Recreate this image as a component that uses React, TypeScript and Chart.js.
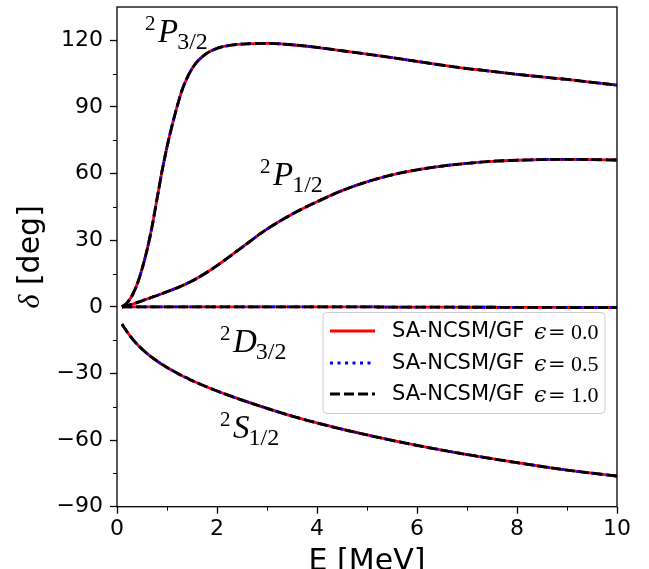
import { useEffect, useRef } from "react";
import { Chart, registerables } from "chart.js";

Chart.register(...registerables);

// ---- data ----
const energies = [
  0.1, 0.2, 0.3, 0.4, 0.5, 0.6, 0.7, 0.8, 0.9, 1.0,
  1.1, 1.2, 1.3, 1.4, 1.5, 1.6, 1.8, 2.0, 2.25, 2.5,
  3, 3.5, 4, 4.5, 5, 5.5, 6, 6.5, 7, 7.5,
  8, 8.5, 9, 9.5, 10,
];
const p32 = [
  0, 1.8, 5, 10, 17, 25.5, 36, 48.5, 61, 72,
  81.5, 90, 97.5, 103, 107.2, 110.3, 114.2, 116.4, 117.7, 118.3,
  118.6, 118, 116.8, 115.3, 113.8, 112.2, 110.5, 108.8, 107.3, 106,
  104.7, 103.5, 102.4, 101.1, 99.8,
];
const p12 = [
  0, 0.5, 1.15, 1.9, 2.7, 3.5, 4.3, 5.1, 5.95, 6.8,
  7.65, 8.55, 9.5, 10.55, 11.65, 12.85, 15.55, 18.55, 22.6, 26.8,
  35.0, 41.7, 47.3, 52.3, 56.3, 59.4, 61.7, 63.4, 64.6, 65.5,
  66.0, 66.3, 66.4, 66.3, 66.1,
];
const d32 = [
  0, 0, 0, 0, 0, 0, 0, 0, 0, 0,
  0, 0, 0, 0, 0, 0, 0, 0, 0, 0,
  0, 0, 0, 0, -0.05, -0.1, -0.1, -0.15, -0.2, -0.2,
  -0.25, -0.25, -0.3, -0.3, -0.3,
];
const s12 = [
  -7.8, -11.2, -14.2, -16.8, -19.0, -21.0, -22.8, -24.4, -25.9, -27.3,
  -28.6, -29.8, -31.0, -32.1, -33.2, -34.2, -36.1, -37.9, -40.0, -42.0,
  -45.7, -49.2, -52.3, -55.1, -57.7, -60.1, -62.4, -64.5, -66.5, -68.4,
  -70.2, -71.9, -73.5, -74.9, -76.2,
];

const curves = [p32, p12, d32, s12];
const epsilonLabels = ["0.0", "0.5", "1.0"];

const xTicks = [0, 2, 4, 6, 8, 10];
const xMinorTicks = [1, 3, 5, 7, 9];
const yTicks = [-90, -60, -30, 0, 30, 60, 90, 120];
const yMinorTicks = [-75, -45, -15, 15, 45, 75, 105];

// wave labels: [letter, subscript, E anchor, delta anchor (baseline)]
const waveLabels: [string, string, number, number][] = [
  ["P", "3/2", 0.56, 119.1],
  ["P", "1/2", 2.86, 54.7],
  ["D", "3/2", 2.06, -20.4],
  ["S", "1/2", 2.06, -59.0],
];

const styles = [
  { color: "#ff0000", dash: [] as number[], order: 3 },
  { color: "#0000ff", dash: [3, 4.5], order: 2 },
  { color: "#000000", dash: [10, 4], order: 1 },
];

const SERIF = '"Liberation Serif", "DejaVu Serif", serif';
const SANS = '"DejaVu Sans", sans-serif';

function drawTerm(ctx: CanvasRenderingContext2D, x: number, base: number, letter: string, sub: string) {
  ctx.fillStyle = "#000";
  ctx.textAlign = "left";
  ctx.textBaseline = "alphabetic";
  ctx.font = `21px ${SERIF}`;
  ctx.fillText("2", x, base - 12);
  ctx.font = `italic 33px ${SERIF}`;
  ctx.fillText(letter, x + 13, base);
  const w = ctx.measureText(letter).width;
  ctx.font = `24px ${SERIF}`;
  ctx.fillText(sub, x + 13 + w - 1, base + 7);
}

const decorPlugin = {
  id: "decor",
  afterDatasetsDraw(chart: any) {
    const ctx: CanvasRenderingContext2D = chart.ctx;
    const { left, right, top, bottom } = chart.chartArea;
    const xs = chart.scales.x;
    const ys = chart.scales.y;
    ctx.save();
    // frame
    ctx.strokeStyle = "#000";
    ctx.lineWidth = 1.3;
    ctx.strokeRect(left, top, right - left, bottom - top);
    // minor ticks
    ctx.lineWidth = 1;
    ctx.beginPath();
    for (const v of xMinorTicks) {
      const px = Math.round(xs.getPixelForValue(v)) + 0.5;
      ctx.moveTo(px, bottom);
      ctx.lineTo(px, bottom + 4);
    }
    for (const v of yMinorTicks) {
      const py = Math.round(ys.getPixelForValue(v)) + 0.5;
      ctx.moveTo(left, py);
      ctx.lineTo(left - 4, py);
    }
    ctx.stroke();
    // wave labels
    for (const [letter, sub, e, d] of waveLabels) {
      drawTerm(ctx, xs.getPixelForValue(e), ys.getPixelForValue(d), letter, sub);
    }
    // legend
    const lx = 323, ly = 312.5, lw = 282, lh = 101;
    ctx.beginPath();
    ctx.roundRect(lx, ly, lw, lh, 4);
    ctx.fillStyle = "rgba(255,255,255,0.85)";
    ctx.fill();
    ctx.strokeStyle = "#cccccc";
    ctx.lineWidth = 1;
    ctx.stroke();
    const rows = [331, 363, 394];
    styles.forEach((s, i) => {
      const y = rows[i];
      ctx.beginPath();
      ctx.setLineDash(s.dash);
      ctx.strokeStyle = s.color;
      ctx.lineWidth = 2.8;
      ctx.moveTo(330, y);
      ctx.lineTo(375, y);
      ctx.stroke();
      ctx.setLineDash([]);
      ctx.fillStyle = "#000";
      ctx.textBaseline = "middle";
      ctx.textAlign = "left";
      ctx.font = `21px ${SANS}`;
      ctx.fillText("SA-NCSM/GF", 392, y + 1);
      ctx.textBaseline = "alphabetic";
      ctx.font = `italic 22px "DejaVu Serif", serif`;
      ctx.fillText("\u03f5", 534, y + 8);
      ctx.font = `21px "DejaVu Serif", serif`;
      ctx.fillText("=", 548, y + 8);
      ctx.font = `22px ${SERIF}`;
      ctx.fillText(epsilonLabels[i], 571, y + 8);
    });
    ctx.restore();
  },
  afterDraw(chart: any) {
    const ctx: CanvasRenderingContext2D = chart.ctx;
    const { left, right, top, bottom } = chart.chartArea;
    ctx.save();
    ctx.fillStyle = "#000";
    // x title
    ctx.font = `30px ${SANS}`;
    ctx.textAlign = "center";
    ctx.textBaseline = "alphabetic";
    ctx.fillText("E [MeV]", (left + right) / 2, 570);
    // y title
    ctx.translate(39, (top + bottom) / 2);
    ctx.rotate(-Math.PI / 2);
    ctx.font = `italic 30px ${SERIF}`;
    const wd = ctx.measureText("\u03b4").width;
    ctx.font = `30px ${SANS}`;
    const wr = ctx.measureText(" [deg]").width;
    const start = -(wd + wr) / 2;
    ctx.textAlign = "left";
    ctx.font = `italic 30px ${SERIF}`;
    ctx.fillText("\u03b4", start, 0);
    ctx.font = `30px ${SANS}`;
    ctx.fillText(" [deg]", start + wd, 0);
    ctx.restore();
  },
};

export default function App() {
  const ref = useRef<HTMLCanvasElement | null>(null);
  useEffect(() => {
    if (!ref.current) return;
    const datasets: any[] = [];
    curves.forEach((arr) => {
      styles.forEach((s) => {
        datasets.push({
          data: energies.map((x, i) => ({ x, y: arr[i] })),
          borderColor: s.color,
          borderDash: s.dash,
          borderWidth: 2.8,
          pointRadius: 0,
          fill: false,
          cubicInterpolationMode: "monotone",
          order: s.order,
        });
      });
    });
    const tickFont = { family: "DejaVu Sans", size: 22 };
    const chart = new Chart(ref.current, {
      type: "line",
      data: { datasets },
      options: {
        animation: false,
        responsive: false,
        devicePixelRatio: 1,
        layout: { padding: { left: 0, right: 32, top: 7, bottom: 0 } },
        plugins: { legend: { display: false }, tooltip: { enabled: false } },
        scales: {
          x: {
            type: "linear",
            min: 0,
            max: 10,
            afterBuildTicks: (s: any) => { s.ticks = xTicks.map((v) => ({ value: v })); },
            afterFit: (s: any) => { s.height = 62.3; s.paddingLeft = 0; s.paddingRight = 0; },
            ticks: { font: tickFont, color: "#000", padding: 2, maxRotation: 0, callback: (v: any) => String(v) },
            grid: { drawOnChartArea: false, drawTicks: true, tickLength: 7, tickWidth: 1.3, tickColor: "#000" },
            border: { display: false },
          },
          y: {
            type: "linear",
            min: -90,
            max: 135,
            afterBuildTicks: (s: any) => { s.ticks = yTicks.map((v) => ({ value: v })); },
            afterFit: (s: any) => { s.width = 117; s.paddingTop = 0; s.paddingBottom = 0; },
            ticks: {
              font: tickFont,
              color: "#000",
              padding: 7,
              callback: (v: any) => (v < 0 ? "\u2212" + Math.abs(v) : String(v)),
            },
            grid: { drawOnChartArea: false, drawTicks: true, tickLength: 7, tickWidth: 1.3, tickColor: "#000" },
            border: { display: false },
          },
        },
      },
      plugins: [decorPlugin],
    });
    return () => chart.destroy();
  }, []);
  return (
    <div style={{ position: "fixed", left: 0, top: 0, width: 649, height: 569, background: "#fff" }}>
      <canvas ref={ref} width={649} height={569} style={{ width: 649, height: 569, display: "block" }} />
    </div>
  );
}
